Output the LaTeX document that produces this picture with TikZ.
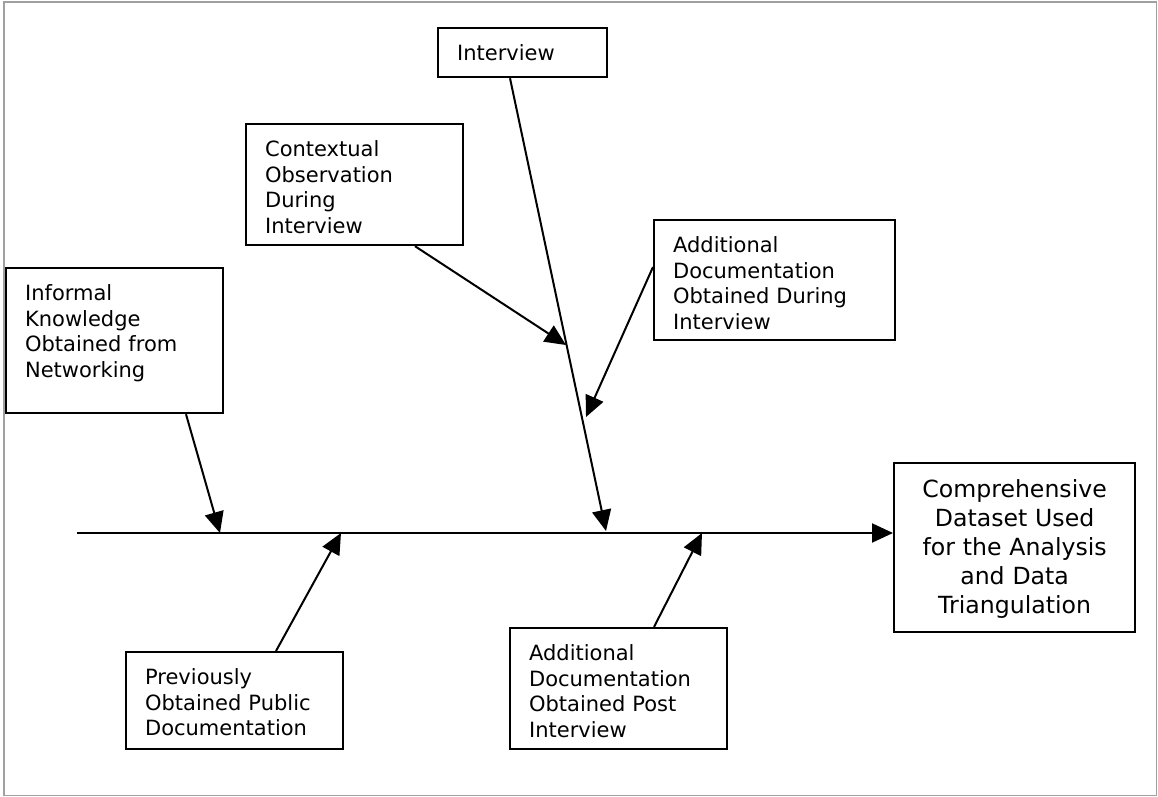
\documentclass[tikz,border=0pt]{standalone}
\usepackage{fontspec}
\setmainfont{DejaVu Sans}
\usetikzlibrary{arrows.meta}
\definecolor{framegray}{RGB}{160,160,160}
\begin{document}
\begin{tikzpicture}[x=1bp,y=-1bp,
  frame/.style={draw=framegray, line width=1.5bp},
  srcbox/.style={draw, line width=2.2bp, anchor=north west, inner xsep=19bp,
    inner ysep=0pt, align=left, text height=32.3bp,
    font=\fontsize{21bp}{25.7bp}\selectfont},
  goalbox/.style={draw, line width=2.2bp, anchor=north west, inner xsep=10bp,
    inner ysep=0pt, align=center, text height=34bp,
    font=\fontsize{23.6bp}{29bp}\selectfont},
  arr/.style={line width=2bp, -{Triangle[length=21bp,width=19bp]}},
]
\useasboundingbox (0,0) rectangle (1158,797);
\draw[frame] (4,2) rectangle (1156.5,795.5);

% data sources
\node[srcbox, text width=131bp, text depth=16.7bp] (intv) at (437,27) {Interview};
\node[srcbox, text width=179bp, text depth=88.7bp] (ctx) at (245,123)
  {Contextual\\Observation\\During\\Interview};
\node[srcbox, text width=203bp, text depth=87.7bp] (dur) at (653,219)
  {Additional\\Documentation\\Obtained During\\Interview};
\node[srcbox, text width=179bp, text depth=112.7bp] (inf) at (5,267)
  {Informal\\Knowledge\\Obtained from\\Networking};
\node[srcbox, text width=179bp, text depth=64.7bp] (prev) at (125,651)
  {Previously\\Obtained Public\\Documentation};
\node[srcbox, text width=179bp, text depth=88.7bp] (post) at (509,627)
  {Additional\\Documentation\\Obtained Post\\Interview};

% outcome
\node[goalbox, text width=221bp, text depth=135bp] (comp) at (893,462)
  {Comprehensive\\Dataset Used\\for the Analysis\\and Data\\Triangulation};

% spine and where the branches meet it
\coordinate (spine0) at (77,533);
\coordinate (t-inf) at (220,533);
\coordinate (t-prev) at (341,533);
\coordinate (t-int) at (606,531);
\coordinate (t-post) at (702,533);
\coordinate (t-ctx) at (566,345);
\coordinate (t-dur) at (586,417);

\draw[arr] (spine0) -- (spine0 -| comp.west);
\draw[arr] ([xshift=181bp]inf.south west) -- (t-inf);
\draw[arr] ([xshift=151bp]prev.north west) -- (t-prev);
\draw[arr] ([xshift=73bp]intv.south west) -- (t-int);
\draw[arr] ([xshift=170bp]ctx.south west) -- (t-ctx);
\draw[arr] ([yshift=-48bp]dur.north west) -- (t-dur);
\draw[arr] ([xshift=145bp]post.north west) -- (t-post);
\end{tikzpicture}
\end{document}
